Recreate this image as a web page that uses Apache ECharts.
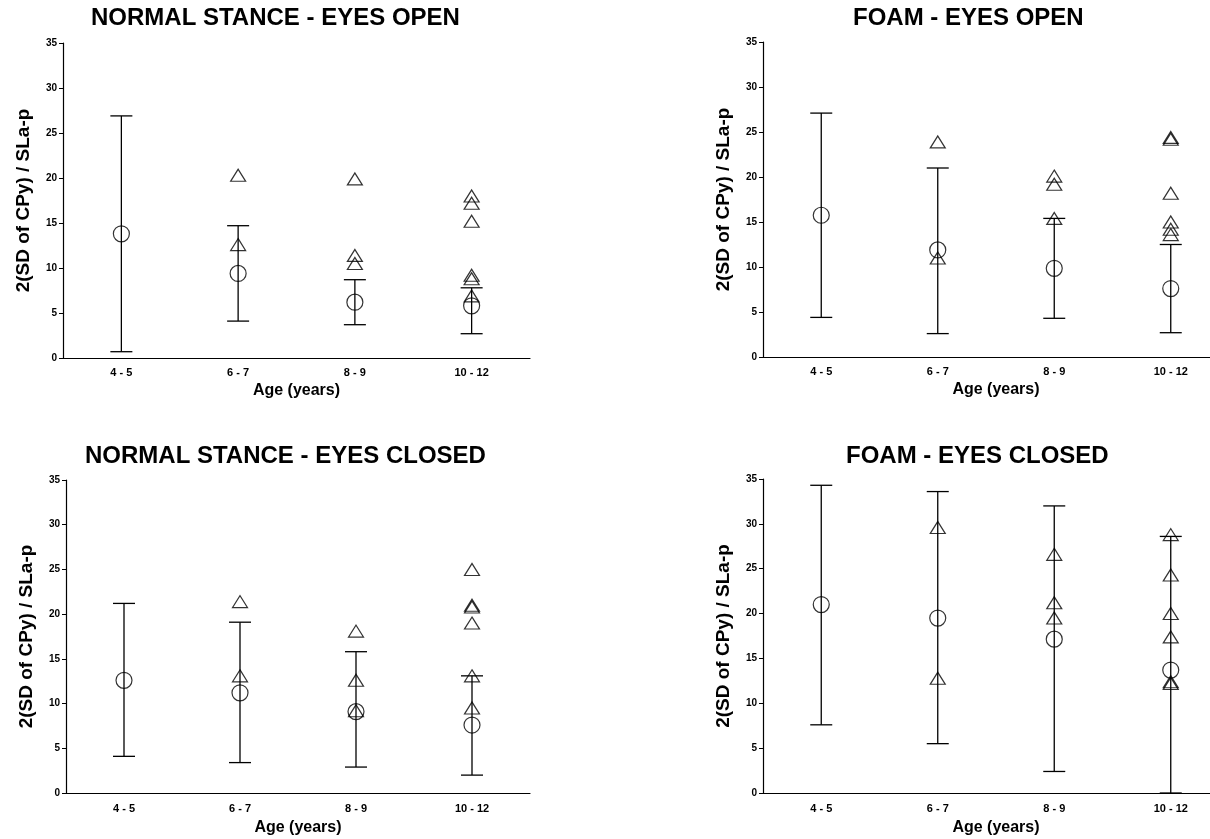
<!DOCTYPE html>
<html>
<head>
<meta charset="utf-8">
<script src="https://cdn.jsdelivr.net/npm/echarts@6/dist/echarts.min.js"></script>
<style>
html,body{margin:0;padding:0;background:#fff;}
#chart{width:1210px;height:839px;}
</style>
</head>
<body>
<div id="chart"></div>
<script>
// ---- data ----
const categories = ['4 - 5', '6 - 7', '8 - 9', '10 - 12'];
const yTicks = [0, 5, 10, 15, 20, 25, 30, 35];
const panelTitles = ['NORMAL STANCE - EYES OPEN', 'FOAM - EYES OPEN', 'NORMAL STANCE - EYES CLOSED', 'FOAM - EYES CLOSED'];
const yAxisName = '2(SD of CPy) / SLa-p';
const xAxisName = 'Age (years)';

// Panel 1: normal stance, eyes open
const p1Mean = [13.8, 9.4, 6.2, 5.8];
const p1Low  = [0.7, 4.1, 3.7, 2.7];
const p1High = [26.9, 14.7, 8.7, 7.8];
const p1Tri  = [[1, 20.3], [1, 12.6], [2, 19.9], [2, 11.4], [2, 10.5], [3, 18.0], [3, 17.2], [3, 15.2], [3, 9.2], [3, 8.8], [3, 6.9]];

// Panel 2: foam, eyes open
const p2Mean = [15.75, 11.9, 9.85, 7.6];
const p2Low  = [4.4, 2.6, 4.3, 2.7];
const p2High = [27.1, 21.0, 15.4, 12.5];
const p2Tri  = [[1, 23.9], [1, 11.0], [2, 20.1], [2, 19.2], [2, 15.4], [3, 24.4], [3, 24.2], [3, 18.2], [3, 15.0], [3, 14.2], [3, 13.6]];

// Panel 3: normal stance, eyes closed
const p3Mean = [12.6, 11.2, 9.1, 7.6];
const p3Low  = [4.1, 3.4, 2.9, 2.0];
const p3High = [21.2, 19.1, 15.8, 13.1];
const p3Tri  = [[1, 21.4], [1, 13.1], [2, 18.1], [2, 12.6], [2, 9.2], [3, 25.0], [3, 21.0], [3, 20.8], [3, 19.0], [3, 13.1], [3, 9.5]];

// Panel 4: foam, eyes closed
const p4Mean = [21.0, 19.5, 17.15, 13.7];
const p4Low  = [7.6, 5.5, 2.4, 0];
const p4High = [34.3, 33.6, 32.0, 28.6];
const p4Tri  = [[1, 29.6], [1, 12.8], [2, 26.6], [2, 21.2], [2, 19.5], [3, 28.8], [3, 24.3], [3, 20.0], [3, 17.4], [3, 12.4], [3, 12.2]];

const panels = [
  {mean: p1Mean, low: p1Low, high: p1High, tri: p1Tri},
  {mean: p2Mean, low: p2Low, high: p2High, tri: p2Tri},
  {mean: p3Mean, low: p3Low, high: p3High, tri: p3Tri},
  {mean: p4Mean, low: p4Low, high: p4High, tri: p4Tri}
];

// ---- layout ----
const FONT = '"Liberation Sans", Arial, Helvetica, sans-serif';
const grids = [
  {left: 63,  top: 43,  width: 467, height: 315, outerBoundsMode: 'none', containLabel: false},
  {left: 763, top: 42,  width: 466, height: 315, outerBoundsMode: 'none', containLabel: false},
  {left: 66,  top: 480, width: 464, height: 313, outerBoundsMode: 'none', containLabel: false},
  {left: 763, top: 479, width: 466, height: 314, outerBoundsMode: 'none', containLabel: false}
];
const titlePos = [
  {left: 91, top: 6}, {left: 853, top: 6}, {left: 85, top: 444}, {left: 846, top: 444}
];
const labelMargin = [9, 9, 10, 10];
const nameGaps = [25, 25, 27, 27];

function renderErr(params, api) {
  const x = api.value(0), lo = api.value(1), hi = api.value(2);
  const a = api.coord([x, lo]);
  const b = api.coord([x, hi]);
  const h = 11;
  const style = {stroke: '#000', lineWidth: 1.3, fill: null};
  return {
    type: 'group',
    children: [
      {type: 'line', shape: {x1: a[0], y1: a[1], x2: b[0], y2: b[1]}, style: style},
      {type: 'line', shape: {x1: a[0] - h, y1: a[1], x2: a[0] + h, y2: a[1]}, style: style},
      {type: 'line', shape: {x1: b[0] - h, y1: b[1], x2: b[0] + h, y2: b[1]}, style: style}
    ]
  };
}

const option = {
  backgroundColor: '#fff',
  animation: false,
  title: panelTitles.map((t, i) => ({
    text: t, left: titlePos[i].left, top: titlePos[i].top, padding: 0,
    textStyle: {fontFamily: FONT, fontWeight: 'bold', fontSize: 24, color: '#000'}
  })),
  grid: grids,
  xAxis: grids.map((g, i) => ({
    type: 'category', gridIndex: i, data: categories, boundaryGap: true,
    name: xAxisName, nameLocation: 'middle', nameGap: nameGaps[i],
    nameTextStyle: {fontFamily: FONT, fontWeight: 'bold', fontSize: 16, color: '#000'},
    axisLine: {lineStyle: {color: '#000', width: 1.2}},
    axisTick: {alignWithLabel: true, length: 3, lineStyle: {color: '#000'}},
    axisLabel: {fontFamily: FONT, fontWeight: 'bold', fontSize: 11, color: '#000', margin: labelMargin[i]},
    splitLine: {show: false}
  })),
  yAxis: grids.map((g, i) => ({
    type: 'value', gridIndex: i, min: yTicks[0], max: yTicks[yTicks.length - 1], interval: yTicks[1] - yTicks[0],
    name: yAxisName, nameLocation: 'middle', nameGap: 30, nameRotate: 90,
    nameTextStyle: {fontFamily: FONT, fontWeight: 'bold', fontSize: 19, color: '#000'},
    axisLine: {show: true, lineStyle: {color: '#000', width: 1.2}},
    axisTick: {show: true, length: 4, lineStyle: {color: '#000'}},
    axisLabel: {fontFamily: FONT, fontWeight: 'bold', fontSize: 10, color: '#000', margin: 6},
    splitLine: {show: false}
  })),
  series: []
};

panels.forEach((p, i) => {
  option.series.push({
    type: 'custom', xAxisIndex: i, yAxisIndex: i,
    renderItem: renderErr,
    encode: {x: 0, y: [1, 2]},
    data: categories.map((c, k) => [k, p.low[k], p.high[k]]),
    z: 2
  });
  option.series.push({
    type: 'scatter', xAxisIndex: i, yAxisIndex: i,
    symbol: 'circle', symbolSize: 16,
    itemStyle: {color: 'rgba(0,0,0,0)', borderColor: '#000', borderWidth: 1.2},
    data: categories.map((c, k) => [k, p.mean[k]]),
    z: 3
  });
  option.series.push({
    type: 'scatter', xAxisIndex: i, yAxisIndex: i,
    symbol: 'triangle', symbolSize: [15, 12],
    itemStyle: {color: 'rgba(0,0,0,0)', borderColor: '#000', borderWidth: 1.2},
    data: p.tri,
    z: 4
  });
});

const chart = echarts.init(document.getElementById('chart'), null, {renderer: 'canvas'});
chart.setOption(option);
</script>
</body>
</html>
